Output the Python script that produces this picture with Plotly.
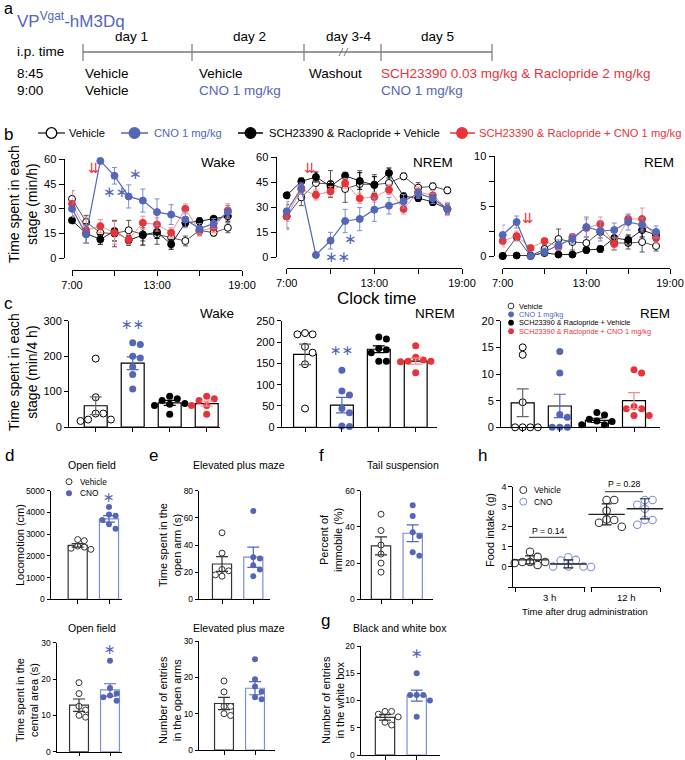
import plotly.graph_objects as go

W, H = 685, 760
FONT = "Arial, Liberation Sans, Helvetica, sans-serif"
SYM = "DejaVu Sans, sans-serif"
BLUE = "#5466b8"
BLUE_L = "#7d8dd6"
RED = "#e8333a"
RED_L = "#f29090"
GREY = "#404040"

# ======================= DATA =======================
# panel b: hourly time in stage (min/h), mean and SEM
hours = [7, 8, 9, 10, 11, 12, 13, 14, 15, 16, 17, 18]
clock_ticks = [7, 10, 13, 16, 19]
clock_labels = ["7:00", "", "13:00", "", "19:00"]
series_names = ["Vehicle", "CNO 1 mg/kg", "SCH23390 & Raclopride + Vehicle",
                "SCH23390 & Raclopride + CNO 1 mg/kg"]

wake_veh = [36, 22, 15.5, 15, 17, 14.5, 14.5, 12.5, 10.5, 17, 15.5, 18.5]
wake_veh_err = [5, 4, 3, 8, 6, 4, 6, 4, 3, 3, 2, 3]
wake_cno = [30, 14.5, 59, 50, 37.5, 35, 28, 26.5, 23.5, 18, 21, 28]
wake_cno_err = [4, 5, 0.5, 5, 7, 7, 8, 6, 5, 3, 3, 4]
wake_sch = [23, 15, 11.5, 16.5, 11, 14, 16, 8.5, 21.5, 22.5, 24, 25.5]
wake_sch_err = [2, 6, 3, 6, 3, 6, 4, 3, 2, 2, 1, 3]
wake_schcno = [33, 17, 19.5, 15.5, 11.5, 21.5, 20.5, 15.5, 30, 16.5, 18.5, 29]
wake_schcno_err = [8, 8, 4, 7, 3, 4, 4, 3, 3, 3, 3, 4]

nrem_veh = [24.4, 35.8, 44.4, 43.8, 40.8, 43.8, 43.4, 44.4, 48.4, 41.6, 42.4, 40]
nrem_veh_err = [7, 5, 5, 8, 8, 8, 6, 6, 2, 3, 2, 2]
nrem_cno = [27.4, 41.4, 1.2, 9.8, 21.6, 22.8, 28.4, 30.8, 33.4, 38.2, 35.2, 28.8]
nrem_cno_err = [6, 3, 1, 5, 7, 7, 7, 5, 4, 3, 3, 3]
nrem_sch = [37, 45.4, 48, 42.4, 48.8, 45.6, 43.2, 50.4, 36.4, 35.4, 33, 28.8]
nrem_sch_err = [2, 2, 3, 3, 2, 5, 5, 3, 2, 2, 2, 3]
nrem_schcno = [24.4, 40.6, 37.2, 39.4, 44.2, 35.2, 36, 40.4, 28.8, 39, 37, 28.8]
nrem_schcno_err = [8, 3, 3, 3, 3, 3, 3, 3, 3, 3, 3, 4]

rem_veh = [0, 1.9, 0, 0.7, 1.7, 1.4, 1.3, 2.4, 1.3, 1.3, 1.4, 1.0]
rem_veh_err = [0, 0.3, 0, 0.4, 1.0, 0.8, 0.6, 0.6, 0.7, 0.6, 1.0, 0.5]
rem_cno = [2.1, 3.4, 0, 0.4, 1.1, 1.7, 2.9, 2.5, 2.6, 3.4, 3.1, 2.4]
rem_cno_err = [1, 0.6, 0.1, 0.4, 0.5, 0.5, 1, 1, 0.7, 0.8, 0.7, 0.6]
rem_sch = [0, 0.05, 0.05, 0.3, 0.15, 0.15, 0.6, 0.7, 1.8, 1.6, 2.6, 2.1]
rem_sch_err = [0, 0.1, 0.1, 0.3, 0.1, 0.1, 0.3, 0.3, 0.6, 0.5, 0.7, 0.5]
rem_schcno = [1.5, 2.0, 0.8, 1.5, 0.9, 1.9, 2.8, 3.2, 1.2, 3.7, 3.7, 1.8]
rem_schcno_err = [0.6, 0.5, 0.1, 0.2, 0.3, 0.3, 0.9, 0.7, 0.6, 0.4, 1.1, 0.5]

# panel c: 4-h totals (min/4 h); individual animals, mean, SEM
c_wake_pts = [[193, 84, 38, 38, 17, 21, 21],
              [238, 233, 200, 195, 170, 148, 107],
              [87, 80, 75, 64, 66, 61, 36],
              [87, 80, 75, 61, 61, 61, 36]]
c_wake_mean = [60, 180, 68, 66]
c_wake_sem = [25, 18, 7, 7]
c_nrem_pts = [[218, 221, 218, 189, 175, 148, 44],
              [134, 85, 76, 44, 34, 2, 3],
              [207, 212, 185, 182, 175, 155, 155],
              [191, 164, 158, 155, 154, 155, 128]]
c_nrem_mean = [171, 52, 183, 155]
c_nrem_sem = [24, 18, 8, 7]
c_rem_pts = [[15, 13.6, 4.7, 0, 0, 0, 0],
             [14.2, 10.2, 2.4, 1.9, 0, 0, 0],
             [2.8, 2.3, 1.5, 1.1, 1.2, 0.5, 0.5],
             [10.8, 10.2, 3.9, 3.5, 3.5, 2.2, 2.2]]
c_rem_mean = [4.6, 4.0, 1.3, 5.0]
c_rem_sem = [2.6, 2.2, 0.4, 1.5]

# panels d-g: Vehicle vs CNO
loco_pts = [[2750, 2700, 2450, 2400, 2350, 2300], [4250, 3900, 3850, 3650, 3450, 3250]]
loco_mean = [2480, 3700]
loco_sem = [80, 150]
center_pts = [[19, 16, 12.5, 11.5, 10, 9.5], [25, 17.5, 16, 15.5, 15, 14]]
center_mean = [12.8, 17.0]
center_sem = [1.7, 1.7]
openarm_pts = [[49, 34, 22, 21, 17, 18], [65, 31, 30, 25, 22, 17]]
openarm_mean = [26, 31]
openarm_sem = [5.5, 7.5]
entries_pts = [[19, 16, 12, 12, 10, 9.5], [25, 19.5, 17.5, 16, 14.5, 14]]
entries_mean = [12.8, 17.0]
entries_sem = [1.7, 1.8]
tail_pts = [[47, 38, 30, 25, 20, 15], [52, 46, 37, 35, 26, 24]]
tail_mean = [29.5, 36.5]
tail_sem = [5, 4.6]
bw_pts = [[8, 8, 7.5, 7, 6, 5.5], [15, 11, 11, 11, 10, 7]]
bw_mean = [6.9, 10.9]
bw_sem = [0.5, 1.0]

# panel h: food intake (g), mean and SD
food_pts = [[0.76, 0.5, 0.25, 0.2, 0.25, 0.25, 0.1],
            [0.48, 0.35, 0.32, 0.02, 0.02, 0.02, 0.0],
            [3.34, 3.34, 2.8, 2.34, 2.37, 2.2, 2.0],
            [3.34, 3.34, 3.1, 2.9, 2.34, 2.34, 2.1]]
food_mean = [0.35, 0.15, 2.62, 2.9]
food_sd = [0.2, 0.2, 0.52, 0.5]
food_groups = ["3 h", "12 h"]
p_values = ["P = 0.14", "P = 0.28"]

# ======================= HELPERS =======================
fig = go.Figure()
layout = dict(width=W, height=H, margin=dict(l=0, r=0, t=0, b=0, pad=0, autoexpand=False),
              paper_bgcolor="white", plot_bgcolor="rgba(0,0,0,0)",
              showlegend=False, barmode="overlay",
              font=dict(family=FONT, color="black"))
anns = []
shapes = []


def A(text, x, y, size, color="black", xa="center", ya="middle", angle=0,
      family=FONT, xref="paper", yref="paper"):
    if xref == "paper":
        x = x / W
    if yref == "paper":
        y = 1 - y / H
    anns.append(dict(text=text, x=x, y=y, xref=xref, yref=yref, showarrow=False,
                     xanchor=xa, yanchor=ya, textangle=angle, borderpad=0,
                     font=dict(size=size, color=color, family=family)))


def L(x0, y0, x1, y1, color="black", width=1):
    shapes.append(dict(type="line", xref="paper", yref="paper", x0=x0 / W, y0=1 - y0 / H,
                       x1=x1 / W, y1=1 - y1 / H, line=dict(color=color, width=width)))


def C(cx, cy, r, fill, lc, lw=1):
    shapes.append(dict(type="circle", xref="paper", yref="paper",
                       x0=(cx - r) / W, x1=(cx + r) / W, y0=1 - (cy + r) / H, y1=1 - (cy - r) / H,
                       fillcolor=fill, line=dict(color=lc, width=lw)))


def make_axes(i, xmap, xline, ymap, yrange, x_at, y_at, xticks, yticks, tfs, ticklen=4):
    v0, p0, v1, p1 = xmap
    kx = (p1 - p0) / (v1 - v0)
    inv_x = lambda p: v0 + (p - p0) / kx
    w0, q0, w1, q1 = ymap
    ky = (q1 - q0) / (w1 - w0)
    py = lambda v: q0 + (v - w0) * ky
    xn = "xaxis" if i == 1 else "xaxis%d" % i
    yn = "yaxis" if i == 1 else "yaxis%d" % i
    common = dict(showline=True, linecolor="black", linewidth=1, ticks="outside",
                  ticklen=ticklen, tickwidth=1, tickcolor="black", showgrid=False,
                  zeroline=False, anchor="free", fixedrange=True, tickmode="array",
                  automargin=False,
                  tickfont=dict(size=tfs, color="black", family=FONT))
    layout[xn] = dict(domain=[xline[0] / W, xline[1] / W],
                      range=[inv_x(xline[0]), inv_x(xline[1])],
                      position=1 - x_at / H, **common, **xticks)
    layout[yn] = dict(domain=[1 - py(yrange[0]) / H, 1 - py(yrange[1]) / H],
                      range=list(yrange), position=y_at / W, **common, **yticks)
    return dict(x="x" if i == 1 else "x%d" % i, y="y" if i == 1 else "y%d" % i,
                kx=abs(kx), ky=abs(ky), inv_x=inv_x)


def swarm(vals, ky, d):
    order = sorted(range(len(vals)), key=lambda k: -vals[k])
    cands = [0.0]
    for j in range(1, 8):
        cands += [j * d, -j * d]
    placed = []
    offs = [0.0] * len(vals)
    for k in order:
        ypx = vals[k] * ky
        for c in cands:
            if all((c - a) ** 2 + (ypx - b) ** 2 >= (0.98 * d) ** 2 for a, b in placed):
                break
        placed.append((c, ypx))
        offs[k] = c
    return offs


def series(ax, ys, err, line_c, fill, mline, err_c, lw=1):
    fig.add_trace(go.Scatter(
        x=hours, y=ys, mode="lines+markers", xaxis=ax["x"], yaxis=ax["y"],
        line=dict(color=line_c, width=lw),
        marker=dict(size=7, color=fill, line=dict(color=mline, width=1)),
        error_y=dict(type="data", array=err, color=err_c, thickness=1, width=2.5),
        cliponaxis=False, hoverinfo="skip"))


def bar_group(ax, pos, pts, mean, sem, bar_line, fill, mline, err_c, msize, bw):
    fig.add_trace(go.Bar(x=[pos], y=[mean], width=bw, xaxis=ax["x"], yaxis=ax["y"],
                         marker=dict(color="white", line=dict(color=bar_line, width=1.2)),
                         hoverinfo="skip"))
    offs = swarm(pts, ax["ky"], msize + 0.6)
    xs = [pos + o / ax["kx"] for o in offs]
    fig.add_trace(go.Scatter(x=xs, y=pts, mode="markers", xaxis=ax["x"], yaxis=ax["y"],
                             marker=dict(size=msize, color=fill,
                                         line=dict(color=mline, width=1 if fill == "white" else 0)),
                             cliponaxis=False, hoverinfo="skip"))
    fig.add_trace(go.Scatter(x=[pos], y=[mean], mode="markers", xaxis=ax["x"], yaxis=ax["y"],
                             marker=dict(size=1, color="rgba(0,0,0,0)"),
                             error_y=dict(type="data", array=[sem], color=err_c,
                                          thickness=1.2, width=6),
                             cliponaxis=False, hoverinfo="skip"))


# ======================= PANEL a =======================
A("a", 3, 9, 16, xa="left")
A("VP<sup>Vgat</sup>-hM3Dq", 16, 20, 17, color=BLUE, xa="left")
for txt, cx in [("day 1", 131), ("day 2", 249), ("day 3-4", 349), ("day 5", 437)]:
    A(txt, cx, 36, 13.5)
A("i.p. time", 16, 52, 13.5, xa="left")
L(83, 52, 492, 52, "#777777", 1.5)
for tx in [83, 192, 304, 381, 492]:
    L(tx, 44, tx, 61, "#777777", 1.2)
L(339, 56, 343, 48, "#777777", 1)
L(344, 56, 348, 48, "#777777", 1)
A("8:45", 16, 73, 13.5, xa="left")
A("9:00", 16, 91, 13.5, xa="left")
A("Vehicle", 84, 73, 13.5, xa="left")
A("Vehicle", 84, 91, 13.5, xa="left")
A("Vehicle", 198, 73, 13.5, xa="left")
A("CNO 1 mg/kg", 198, 91, 13.5, color=BLUE, xa="left")
A("Washout", 308, 73, 13.5, xa="left")
A("SCH23390 0.03 mg/kg &amp; Raclopride 2 mg/kg", 380, 73, 13.5, color=RED, xa="left")
A("CNO 1 mg/kg", 380, 91, 13.5, color=BLUE, xa="left")

# ======================= PANEL b =======================
A("b", 3, 134, 17, xa="left")
leg = [(38, 65, 51.5, "white", "black", GREY, series_names[0], "black", 68),
       (121, 148, 134.5, BLUE, BLUE, BLUE, series_names[1], BLUE, 153),
       (238, 263, 250.5, "black", "black", "black", series_names[2], "black", 268),
       (450, 475, 462, RED, RED, RED, series_names[3], RED, 478)]
for x0, x1, cx, fill, lc, linec, txt, tc, tx in leg:
    L(x0, 133, x1, 133, linec, 1.5)
    C(cx, 133, 5.3, fill, lc, 1.3)
    A(txt.replace("&", "&amp;"), tx, 133, 11.2, color=tc, xa="left")

clock_x = dict(tickvals=clock_ticks, ticktext=clock_labels)
ax1 = make_axes(1, (7, 72, 19, 242), (72, 242), (0, 258.3, 60, 159.3), (0, 60), 269.5, 63.5,
                clock_x, dict(tickvals=[0, 15, 30, 45, 60]), 11, 5)
ax2 = make_axes(2, (7, 286.7, 19, 462), (286.7, 462), (0, 257, 60, 157), (0, 60), 267.5, 275.5,
                clock_x, dict(tickvals=[0, 15, 30, 45, 60]), 11, 5)
ax3 = make_axes(3, (7, 502.7, 19, 670), (502.7, 670), (0, 256, 10, 156), (0, 10), 268, 493.5,
                clock_x, dict(tickvals=[0, 2.5, 5, 7.5, 10], ticktext=["0", "", "5", "", "10"]), 11, 5)

for ax, d in [(ax1, (wake_veh, wake_veh_err, wake_sch, wake_sch_err, wake_schcno, wake_schcno_err, wake_cno, wake_cno_err)),
              (ax2, (nrem_veh, nrem_veh_err, nrem_sch, nrem_sch_err, nrem_schcno, nrem_schcno_err, nrem_cno, nrem_cno_err)),
              (ax3, (rem_veh, rem_veh_err, rem_sch, rem_sch_err, rem_schcno, rem_schcno_err, rem_cno, rem_cno_err))]:
    series(ax, d[0], d[1], "#555555", "white", "black", "#555555")
    series(ax, d[2], d[3], "#222222", "black", "black", "black")
    series(ax, d[4], d[5], RED_L, RED, RED, RED_L)
    series(ax, d[6], d[7], BLUE, BLUE, BLUE, BLUE_L, 1.2)

A("Time spent in each<br>stage (min/h)", 23, 204, 14, angle=-90)
A("Wake", 218, 162, 13.5)
A("NREM", 433, 162, 13.5)
A("REM", 659, 162, 13.5)
A("Clock time", 376, 298, 17)
# injection arrows
A("⇊", 8.55, 54.5, 14, color=RED, family=SYM, xref=ax1["x"], yref=ax1["y"])
A("⇊", 8.6, 53.5, 14, color=RED, family=SYM, xref=ax2["x"], yref=ax2["y"])
A("⇊", 8.85, 3.8, 14, color=RED, family=SYM, xref=ax3["x"], yref=ax3["y"])
# significance
A("∗∗", 9.3, 64.5, 15, color=BLUE, family=SYM, xref=ax1["x"], yref=ax1["y"])
A("∗∗", 10.1, 40, 15, color=BLUE, family=SYM, xref=ax1["x"], yref=ax1["y"])
A("∗", 11.5, 51, 15, color=BLUE, family=SYM, xref=ax1["x"], yref=ax1["y"])
A("∗∗", 8.4, -3, 15, color=BLUE, family=SYM, xref=ax2["x"], yref=ax2["y"])
A("∗∗", 10.5, 0, 15, color=BLUE, family=SYM, xref=ax2["x"], yref=ax2["y"])
A("∗", 11.4, 10.6, 15, color=BLUE, family=SYM, xref=ax2["x"], yref=ax2["y"])

# ======================= PANEL c =======================
A("c", 3, 303, 17, xa="left")
cat4 = dict(tickvals=[0, 1, 2, 3], ticktext=["", "", "", ""])
ax4 = make_axes(4, (0, 95.7, 1, 132.7), (68, 220), (0, 427, 300, 320.7), (0, 300), 427, 68,
                cat4, dict(tickvals=[0, 100, 200, 300]), 11)
ax5 = make_axes(5, (0, 305, 1, 341.9), (280.7, 437), (0, 427.3, 250, 320.7), (0, 250), 427.3, 280.7,
                cat4, dict(tickvals=[0, 50, 100, 150, 200, 250]), 11)
ax6 = make_axes(6, (0, 522.7, 1, 559.8), (500, 660), (0, 427.3, 20, 320.7), (0, 20), 427.3, 500,
                cat4, dict(tickvals=[0, 5, 10, 15, 20]), 11)
c_styles = [("white", "black", "#666666"), (BLUE, BLUE, BLUE), ("black", "black", "black"), (RED, RED, RED_L)]
for ax, pts, means, sems in [(ax4, c_wake_pts, c_wake_mean, c_wake_sem),
                             (ax5, c_nrem_pts, c_nrem_mean, c_nrem_sem),
                             (ax6, c_rem_pts, c_rem_mean, c_rem_sem)]:
    for g in range(4):
        fill, ml, ec = c_styles[g]
        bar_group(ax, g, pts[g], means[g], sems[g], "black", fill, ml, ec, 7, 0.62)
A("Time spent in each<br>stage (min/4 h)", 23, 372, 14, angle=-90)
A("Wake", 217, 313, 13.5)
A("NREM", 435, 313, 13.5)
A("REM", 655, 313, 13.5)
A("∗∗", 1, 290, 14, color=BLUE, family=SYM, xref=ax4["x"], yref=ax4["y"])
A("∗∗", 1, 182, 14, color=BLUE, family=SYM, xref=ax5["x"], yref=ax5["y"])
for k, (fill, lc, tc) in enumerate([("white", "#333333", "black"), (BLUE, BLUE, BLUE),
                                     ("black", "black", "black"), (RED, RED, RED)]):
    yy = [306, 314.3, 322.7, 331.2][k]
    C(511, yy, 2.9, fill, lc, 1 if fill == "white" else 0)
    A(series_names[k].replace("&", "&amp;"), 518, yy, 7.3, color=tc, xa="left")

# ======================= PANELS d-g =======================
cat2 = dict(tickvals=[0, 1], ticktext=["", ""])
ax7 = make_axes(7, (0, 77.7, 1, 109), (50, 121.7), (0, 599.3, 5000, 490.7), (0, 5000), 599.3, 50,
                cat2, dict(tickvals=[0, 1000, 2000, 3000, 4000, 5000]), 8.5, 3.5)
ax8 = make_axes(8, (0, 79, 1, 110), (56, 122), (0, 751.7, 30, 642.7), (0, 30), 751.7, 56,
                cat2, dict(tickvals=[0, 10, 20, 30]), 8.5, 3.5)
ax9 = make_axes(9, (0, 222, 1, 253.3), (198.3, 270), (0, 599.3, 80, 490.7), (0, 80), 599.3, 198.3,
                cat2, dict(tickvals=[0, 20, 40, 60, 80]), 8.5, 3.5)
ax10 = make_axes(10, (0, 224, 1, 255), (198.3, 275), (0, 750, 30, 641), (0, 30), 750, 198.3,
                 cat2, dict(tickvals=[0, 10, 20, 30]), 8.5, 3.5)
ax11 = make_axes(11, (0, 381, 1, 412.7), (360, 433), (0, 599.3, 60, 490.7), (0, 60), 599.3, 360,
                 cat2, dict(tickvals=[0, 20, 40, 60]), 8.5, 3.5)
ax12 = make_axes(12, (0, 385, 1, 416.7), (360, 440), (0, 755, 20, 646), (0, 20), 755, 360,
                 cat2, dict(tickvals=[0, 5, 10, 15, 20]), 8.5, 3.5)
for ax, pts, means, sems in [(ax7, loco_pts, loco_mean, loco_sem), (ax8, center_pts, center_mean, center_sem),
                             (ax9, openarm_pts, openarm_mean, openarm_sem), (ax10, entries_pts, entries_mean, entries_sem),
                             (ax11, tail_pts, tail_mean, tail_sem), (ax12, bw_pts, bw_mean, bw_sem)]:
    bar_group(ax, 0, pts[0], means[0], sems[0], "#333333", "white", "#333333", "#333333", 6, 0.61)
    bar_group(ax, 1, pts[1], means[1], sems[1], BLUE_L, BLUE, BLUE, BLUE, 6, 0.61)

A("d", 4, 455, 17, xa="left")
A("e", 148, 455, 17, xa="left")
A("f", 318, 455, 17, xa="left")
A("g", 320, 620, 17, xa="left")
A("h", 477, 455, 17, xa="left")
A("Open field", 92, 465, 10.5)
A("Open field", 92, 628, 10.5)
A("Elevated plus maze", 239, 465, 10.5)
A("Elevated plus maze", 239, 628, 10.5)
A("Tail suspension", 403, 465, 10.5)
A("Black and white box", 400, 628, 10.5)
A("Locomotion (cm)", 20, 545, 11, angle=-90)
A("Time spent in the<br>central area (s)", 27, 700, 11, angle=-90)
A("Time spent in the<br>open arm (s)", 170, 545, 11, angle=-90)
A("Number of entries<br>in the open arms", 170, 700, 11, angle=-90)
A("Percent of<br>immobile (%)", 331, 540, 11, angle=-90)
A("Number of entries<br>in the white box", 333, 700, 11, angle=-90)
A("∗", 1, 4720, 14, color=BLUE, family=SYM, xref=ax7["x"], yref=ax7["y"])
A("∗", 1, 28.4, 14, color=BLUE, family=SYM, xref=ax8["x"], yref=ax8["y"])
A("∗", 1, 18.7, 14, color=BLUE, family=SYM, xref=ax12["x"], yref=ax12["y"])
C(69, 481.7, 3, "white", "#333333", 1)
A("Vehicle", 79, 481.7, 8.3, xa="left")
C(69, 493.3, 3, BLUE, BLUE, 0)
A("CNO", 79, 493.3, 8.3, xa="left")

# ======================= PANEL h =======================
h_ticks_px = [515.7, 584.3, 591.7, 660]
ax13 = make_axes(13, (0, 530, 1, 568.3), (511.7, 660), (-1, 587, 4, 486.7), (-1, 4), 587, 511.7,
                 dict(tickvals=[(p - 530) / 38.3 for p in h_ticks_px], ticktext=["", "", "", ""]),
                 dict(tickvals=[-1, 0, 1, 2, 3, 4], ticktext=["", "0", "1", "2", "3", "4"]), 9, 3.5)
L(585.3, 587, 590.7, 587, "white", 2.5)
for g in range(4):
    col = "#333333" if g % 2 == 0 else BLUE_L
    offs = swarm(food_pts[g], ax13["ky"], 7.6)
    fig.add_trace(go.Scatter(x=[g + o / ax13["kx"] for o in offs], y=food_pts[g], mode="markers",
                             xaxis=ax13["x"], yaxis=ax13["y"],
                             marker=dict(size=7.5, color="white", line=dict(color=col, width=1.1)),
                             cliponaxis=False, hoverinfo="skip"))
    fig.add_trace(go.Scatter(x=[g], y=[food_mean[g]], mode="markers", xaxis=ax13["x"], yaxis=ax13["y"],
                             marker=dict(symbol="line-ew", size=26, line=dict(color="#222222", width=1.4)),
                             error_y=dict(type="data", array=[food_sd[g]], color="#222222",
                                          thickness=1.2, width=5),
                             cliponaxis=False, hoverinfo="skip"))
A(food_groups[0], 549, 597, 9.5)
A(food_groups[1], 626, 597, 9.5)
A("Time after drug administration", 585, 611.5, 9.5)
A("Food intake (g)", 490, 530, 11, angle=-90)
L(529, 537.3, 567, 537.3, "#555555", 1.2)
A(p_values[0], 548, 530.5, 8.7)
L(605, 491.7, 643, 491.7, "#555555", 1.2)
A(p_values[1], 624, 484.5, 8.7)
C(523.3, 490, 3.5, "white", "#333333", 1)
A("Vehicle", 533, 490, 8.3, xa="left")
C(523.3, 501.7, 3.5, "white", BLUE_L, 1)
A("CNO", 533, 501.7, 8.3, xa="left")

layout["annotations"] = anns
layout["shapes"] = shapes
fig.update_layout(**layout)
fig.write_html("out.html", config={"displayModeBar": False},
               post_script="document.body.style.margin='0px';document.body.style.padding='0px';")
